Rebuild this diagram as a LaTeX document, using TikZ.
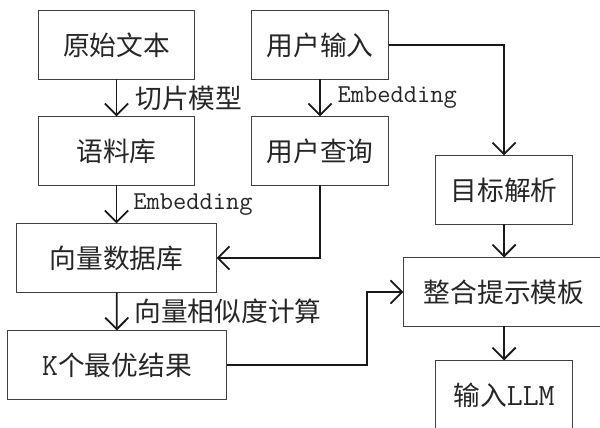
\documentclass[tikz,border=0pt]{standalone}
\usepackage{fontspec}
\setmainfont{Noto Sans CJK SC}
\newcommand\mono{\ttfamily}
\usetikzlibrary{arrows.meta}

\begin{document}
\begin{tikzpicture}[x=0.025cm, y=0.025cm,
  box/.style={draw=black!75, line width=0.7pt, inner sep=0, minimum height=1.7cm, text=black!85, font=\fontsize{19}{19}\selectfont},
  flow/.style={-{Straight Barb[length=0.29cm,width=0.58cm]}, line width=1.3pt, black!90},
  lab/.style={right, inner sep=0, text=black!85, font=\fontsize{19}{19}\selectfont},
  elab/.style={right, inner sep=0, text=black!85, font=\fontsize{18.3}{18.3}\mono}]
\useasboundingbox (0,0) rectangle (600,428);
\node[box, minimum width=3.875cm] (s1) at (116.5,383) {原始文本};
\node[box, minimum width=3.875cm] (s2) at (116.5,277) {语料库};
\node[box, minimum width=3.4cm] (q1) at (320,383) {用户输入};
\node[box, minimum width=3.4cm] (q2) at (320,277) {用户查询};
\node[box, minimum width=3.4cm] (g1) at (504,238) {目标解析};
\node[box, minimum width=4.975cm] (v1) at (116.5,170) {向量数据库};
\node[box, minimum width=5.45cm] (k1) at (117,63) {{\fontsize{22}{22}\mono K}个最优结果};
\node[box, minimum width=5cm] (m1) at (504,136) {整合提示模板};
\node[box, minimum width=3.4cm] (l1) at (504,33) {输入{\fontsize{22}{22}\mono LLM}};
\coordinate (b1) at (367,63);
\draw[flow] (s1)--(s2) node [midway, lab, xshift=0.45cm] {切片模型};
\draw[flow] (s2)--(v1) node [midway, elab, xshift=0.4cm] {Embedding};
\draw[flow] (q1)--(q2) node [midway, elab, xshift=0.42cm] {Embedding};
\draw[flow] (v1)--(k1) node [midway, lab, xshift=0.42cm] {向量相似度计算};
\draw[flow] (q2.south) |- (v1.east);
\draw[flow] (q1.east) -| (g1.north);
\draw[flow] (g1)--(m1);
\draw[flow] (m1)--(l1);
% results into the template
\draw[flow] (k1.east)--(b1) |- (m1.west);
\end{tikzpicture}
\end{document}
